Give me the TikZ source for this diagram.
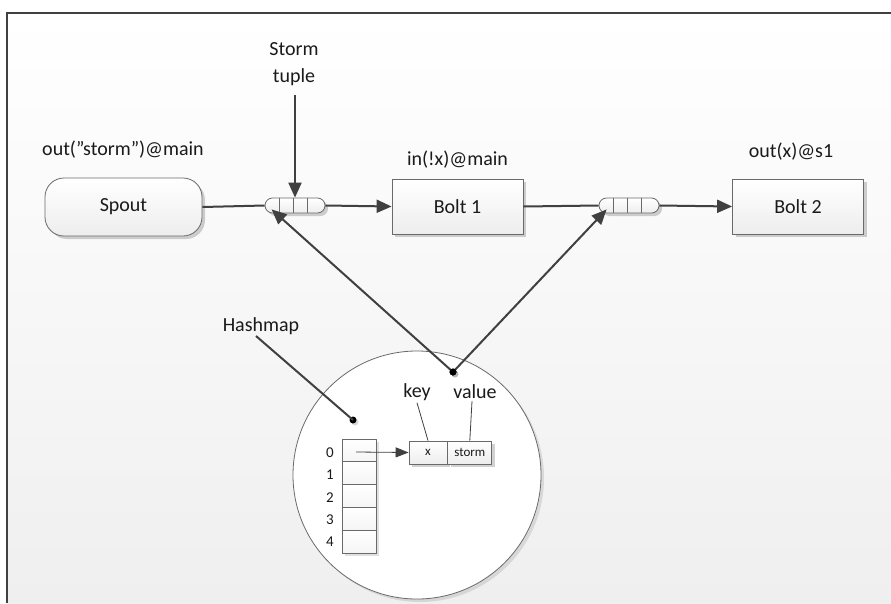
\documentclass[tikz,border=0pt]{standalone}
\usepackage{fontspec}
\setmainfont{Carlito}
\usetikzlibrary{arrows.meta,shadows,calc,positioning}

\definecolor{ink}{HTML}{1A1A1A}
\definecolor{wire}{HTML}{404040}
\definecolor{rim}{HTML}{6A6A6A}
\definecolor{paper}{HTML}{EFEFEF}

\tikzset{
  lbl/.style={font=\fontsize{20}{24}\selectfont, text=ink, inner sep=0pt},
  small/.style={font=\fontsize{13}{15}\selectfont, text=ink, inner sep=0pt},
  idx/.style={font=\fontsize{15}{17}\selectfont, text=ink, inner sep=0pt},
  boxbase/.style={draw=rim, line width=0.8pt, top color=white, bottom color=gray!14,
    drop shadow={shadow xshift=3pt, shadow yshift=-3pt, opacity=0.18, fill=black},
    font=\fontsize{20}{24}\selectfont, text=ink, inner sep=0pt},
  spoutbox/.style={boxbase, rounded corners=19pt, minimum width=157pt, minimum height=58pt},
  boltbox/.style={boxbase, minimum width=131pt, minimum height=55pt},
  queue/.style={boxbase, rounded corners=7.5pt, minimum width=60pt, minimum height=15pt},
  cellbox/.style={draw=rim, line width=0.8pt, top color=white, bottom color=gray!8,
    minimum width=34pt, minimum height=22.8pt, inner sep=0pt,
    drop shadow={shadow xshift=3pt, shadow yshift=-3pt, opacity=0.12, fill=black}},
  entry/.style={boxbase, font=\fontsize{13}{15}\selectfont, minimum height=23pt},
  conn/.style={draw=wire, line width=2pt},
  arr/.style={conn, -{Triangle[length=15pt, width=13pt]}},
  thin/.style={draw=wire, line width=0.8pt},
  thinarr/.style={thin, -{Triangle[length=13pt, width=10pt]}},
  dot/.style={circle, fill=black, inner sep=0pt, minimum size=7pt,
    drop shadow={shadow xshift=2pt, shadow yshift=-2pt, opacity=0.15, fill=black}},
}

\begin{document}
\begin{tikzpicture}[x=1pt, y=-1pt]
  % canvas and frame
  \useasboundingbox (0,0) rectangle (891,603);
  \fill[white] (0,0) rectangle (891,603);
  \shade[top color=white, bottom color=paper] (7,13) rectangle (891,603);
  \draw[wire, line width=1.4pt] (7,603) -- (7,13) -- (891,13);

  % pipeline
  \node[spoutbox] (spout) at (123.5,207) {Spout};
  \node[queue] (q1) at (295,205.5) {};
  \node[boltbox] (bolt1) at (457.5,206.5) {Bolt 1};
  \node[queue] (q2) at (629,205.5) {};
  \node[boltbox] (bolt2) at (798,206.5) {Bolt 2};

  % queue cell dividers
  \foreach \q in {q1,q2} {
    \foreach \dx in {15,29,43} {
      \draw[rim, line width=0.8pt] ($(\q.north west)+(\dx,0)$) -- ($(\q.south west)+(\dx,0)$);
    }
  }

  % labels above the pipeline
  \node[lbl] (spoutlbl) at (123,150) {out(”storm”)@main};
  \node[lbl] (bolt1lbl) at (457.5,160) {in(!x)@main};
  \node[lbl] (bolt2lbl) at (791,152) {out(x)@s1};
  \node[lbl, align=center] (tuple) at (294,64.5) {Storm\\[3pt]tuple};

  % pipeline connectors
  \draw[conn] (spout.east) -- (q1.west);
  \draw[arr] (q1.east) -- (bolt1.west);
  \draw[conn] (bolt1.east) -- (q2.west);
  \draw[arr] (q2.east) -- (bolt2.west);
  \coordinate (tupletop) at (295,95);
  \draw[arr] (tupletop) -- (q1.north);

  % hashmap
  \node[circle, draw=rim, line width=0.8pt, fill=white, minimum size=248pt, inner sep=0pt,
    drop shadow={shadow xshift=3pt, shadow yshift=-3pt, opacity=0.10, fill=black}]
    (map) at (417,475) {};

  \foreach \i in {0,...,4} {
    \node[cellbox] (r\i) at (359,{450.4+22.8*\i}) {};
    \node[idx] (n\i) at (330,{452.5+22.4*\i}) {\i};
  }

  \node[entry, minimum width=38pt] (xbox) at (428,452.5) {x};
  \node[entry, minimum width=44pt, anchor=west] (sbox) at (xbox.east) {storm};

  \node[lbl] (key) at (417,392) {key};
  \node[lbl] (val) at (475,392) {value};
  \draw[thin] ($(key.south)+(0,2)$) -- (xbox.north);
  \draw[thin] ($(val.south)+(-3,2)$) -- (sbox.north);

  \coordinate (slot) at (356,452);
  \draw[thinarr] (slot) -- (xbox.west);

  % pointers
  \node[lbl] (hm) at (261,326) {Hashmap};
  \node[dot] (d1) at (353,420) {};
  \node[dot] (d2) at (453,372) {};
  \coordinate (hmfoot) at (256,336);
  \draw[conn] (hmfoot) -- (d1.center);

  \coordinate (q1in) at ($(q1.south west)+(7,-4)$);
  \coordinate (q2in) at ($(q2.south west)+(8,-4)$);
  \draw[arr] (d2.center) -- (q1in);
  \draw[arr] (d2.center) -- (q2in);
  \node[dot] at (d2) {};
\end{tikzpicture}
\end{document}
